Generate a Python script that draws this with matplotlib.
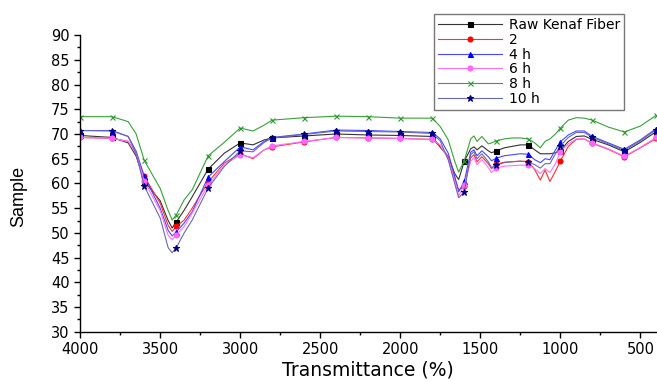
import matplotlib
matplotlib.use('Agg')
import matplotlib.pyplot as plt
from matplotlib.ticker import MultipleLocator

plt.rcParams['font.family'] = ['DejaVu Sans']

# wavenumber grid (cm-1)
wn = [4000, 3800, 3700, 3650, 3600, 3500, 3450, 3425, 3400, 3350,
      3300, 3200, 3100, 3000, 2920, 2850, 2800, 2600, 2400, 2200,
      2000, 1800, 1750, 1700, 1660, 1635, 1600, 1560, 1540, 1520,
      1490, 1450, 1430, 1400, 1350, 1300, 1250, 1200, 1160, 1125,
      1095, 1065, 1030, 1000, 950, 900, 850, 800, 700, 600, 500, 400]

raw = [69.7, 69.3, 68.2, 65.5, 60.5, 56.5, 52.5, 51.0, 52.2, 54.6,
       57.3, 62.9, 66.1, 68.2, 67.8, 68.8, 69.2, 69.6, 70.0, 69.8,
       69.7, 69.5, 67.3, 65.4, 62.0, 60.8, 64.5, 67.0, 67.4, 66.8,
       67.6, 66.6, 66.2, 66.6, 67.2, 67.5, 67.8, 67.8, 66.8, 66.0,
       66.0, 66.0, 66.2, 66.6, 68.5, 69.5, 69.6, 68.9, 67.8, 66.4, 68.3, 70.5]

s2 = [69.3, 69.1, 68.5, 66.0, 61.5, 56.0, 51.5, 50.3, 51.3, 52.6,
      55.0, 60.3, 64.1, 66.0, 65.0, 66.8, 67.4, 68.4, 69.3, 69.2,
      69.1, 68.9, 67.5, 65.4, 61.0, 58.7, 59.4, 65.2, 65.8, 64.4,
      65.4, 64.0, 63.0, 63.9, 64.3, 64.4, 64.5, 64.4, 62.8, 60.7,
      62.7, 60.4, 62.5, 64.5, 67.5, 68.9, 69.0, 68.1, 66.9, 65.4, 67.2, 69.1]

h4 = [70.7, 70.7, 69.5, 66.5, 61.5, 55.0, 50.5, 49.4, 50.2, 52.0,
      54.3, 61.3, 64.4, 67.4, 66.8, 68.5, 69.3, 70.0, 70.8, 70.7,
      70.5, 70.3, 69.0, 66.1, 61.5, 58.3, 60.4, 66.3, 66.8, 65.6,
      66.6, 65.4, 64.6, 65.1, 65.6, 65.8, 66.0, 65.9, 64.8, 64.2,
      65.0, 64.8, 66.8, 68.4, 69.8, 70.6, 70.6, 69.5, 68.2, 66.9, 68.8, 71.1]

h6 = [69.3, 69.1, 68.5, 66.0, 60.5, 54.5, 49.5, 48.6, 49.6, 51.3,
      54.0, 59.7, 63.7, 65.8, 65.2, 66.8, 67.6, 68.5, 69.3, 69.2,
      69.1, 68.9, 67.8, 65.0, 60.5, 57.5, 59.6, 64.5, 65.2, 63.8,
      64.8, 63.2, 62.2, 63.1, 63.5, 63.6, 63.7, 63.7, 63.0, 62.0,
      63.0, 62.2, 64.0, 66.4, 68.0, 69.0, 69.0, 68.2, 67.0, 65.5, 67.3, 69.3]

h8 = [73.5, 73.5, 72.5, 70.0, 64.7, 59.0, 54.5, 52.6, 53.6, 56.7,
      58.7, 65.6, 68.3, 71.2, 70.6, 71.8, 72.8, 73.3, 73.6, 73.5,
      73.2, 73.2, 71.5, 68.8, 64.5, 62.3, 64.6, 69.0, 69.6, 68.5,
      69.5, 68.0, 68.2, 68.6, 69.0, 69.2, 69.2, 69.0, 68.2, 67.2,
      68.5, 69.0, 70.0, 71.2, 72.8, 73.3, 73.2, 72.8, 71.4, 70.4, 71.6, 73.8]

h10 = [70.7, 70.6, 69.5, 66.0, 59.5, 53.0, 47.0, 46.0, 47.0, 50.0,
       52.6, 59.1, 63.4, 66.6, 66.4, 68.3, 69.2, 69.9, 70.6, 70.5,
       70.4, 70.1, 68.6, 64.7, 60.0, 57.1, 58.3, 65.8, 66.4, 65.0,
       66.0, 64.4, 63.2, 63.7, 64.2, 64.4, 64.5, 64.4, 63.8, 63.1,
       64.0, 64.0, 66.0, 67.6, 69.3, 70.3, 70.3, 69.3, 68.0, 66.7, 68.6, 70.9]

labels = ['Raw Kenaf Fiber', '2', '4 h', '6 h', '8 h', '10 h']
series = [raw, s2, h4, h6, h8, h10]
line_colors = ['#333333', '#ff3030', '#4848ff', '#ff70ff', '#3aa03a', '#6a6ab0']
marker_colors = ['#000000', '#ff0000', '#0000ff', '#ff66ff', '#2e9a2e', '#000080']
markers = ['s', 'o', '^', 'o', 'x', '*']

# markers every 200 cm-1
marks = [i for i, w in enumerate(wn) if w % 200 == 0]

fig = plt.figure(figsize=(6.57, 3.81), dpi=100)
ax = fig.add_axes([0.122, 0.129, 0.877, 0.779])

for y, lab, lc, mc, m in zip(series, labels, line_colors, marker_colors, markers):
    ax.plot(wn, y, color=lc, lw=0.8, marker=m, markevery=marks,
            ms=3.6 if m != '*' else 5, mfc=mc, mec=mc, mew=0.8, label=lab)

ax.set_xlim(4000, 400)
ax.set_ylim(30, 90)
ax.set_xticks([4000, 3500, 3000, 2500, 2000, 1500, 1000, 500])
ax.xaxis.set_minor_locator(MultipleLocator(250))
ax.yaxis.set_major_locator(MultipleLocator(5))
ax.yaxis.set_minor_locator(MultipleLocator(2.5))
ax.tick_params(which='major', direction='out', length=4, width=1, labelsize=10.5)
ax.tick_params(which='minor', direction='out', length=2.5, width=1)
for s in ['top', 'right']:
    ax.spines[s].set_visible(False)
ax.spines['left'].set_linewidth(1)
ax.spines['bottom'].set_linewidth(1)

ax.set_xlabel('Transmittance (%)', fontsize=13.5)
ax.xaxis.set_label_coords(0.5, -0.097)
ax.set_ylabel('Sample', fontsize=13, family='Liberation Sans')
ax.yaxis.set_label_coords(-0.092, 0.455)

leg = ax.legend(loc='upper right', bbox_to_anchor=(0.944, 1.071), fontsize=10,
                frameon=True, fancybox=False, edgecolor='#555555',
                handlelength=4.6, handletextpad=0.5, labelspacing=0.05,
                borderpad=0.3, borderaxespad=0)
leg.get_frame().set_linewidth(1)

fig.savefig('out.png', dpi=100)
